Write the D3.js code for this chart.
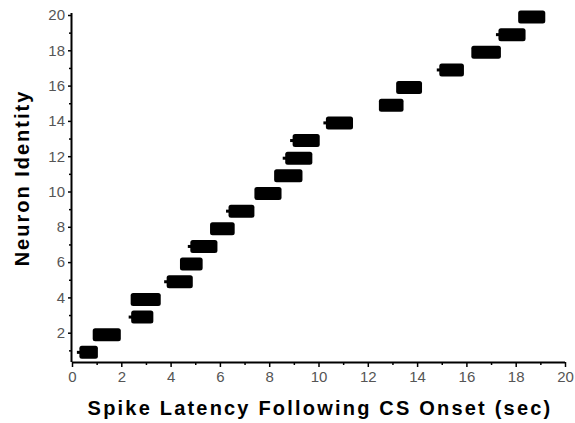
<!DOCTYPE html>
<html><head><meta charset="utf-8">
<script src="https://cdn.jsdelivr.net/npm/d3@7"></script>
<style>html,body{margin:0;padding:0;background:#fff;}svg{display:block;}</style>
</head><body>
<svg id="c" width="575" height="423"></svg>
<script>
// Neuron identities
const neurons = [1,2,3,4,5,6,7,8,9,10,11,12,13,14,15,16,17,18,19,20];
// First and last spike latency (sec) of each neuron's spike cluster
const spikeStart = [0.3,0.84,2.4,2.38,3.84,4.38,4.8,5.6,6.35,7.4,8.2,8.65,8.95,10.3,12.45,13.15,14.9,16.2,17.3,18.1];
const spikeEnd   = [1.05,1.98,3.3,3.6,4.9,5.3,5.9,6.6,7.4,8.5,9.35,9.75,10.05,11.4,13.45,14.2,15.9,17.4,18.4,19.2];
// Neurons with an isolated early spike (small nub on left)
const earlySpike = [1,3,5,7,9,12,13,14,17,19];
const xTicks = [0,2,4,6,8,10,12,14,16,18,20];
const yTicks = [2,4,6,8,10,12,14,16,18,20];
const xTitle = "Spike Latency Following CS Onset (sec)";
const yTitle = "Neuron Identity";

const svg = d3.select("#c");
const x = d3.scaleLinear().domain([0,20]).range([72,565]);
const y = d3.scaleLinear().domain([0,20]).range([368,15]);
const yAxisOrigin = 0.34;
const y0 = y(yAxisOrigin);

// bars
const g = svg.append("g");
neurons.forEach((n,i)=>{
  const cy = y(n)+2;
  g.append("rect")
    .attr("x", x(spikeStart[i])).attr("y", cy-6.5)
    .attr("width", x(spikeEnd[i])-x(spikeStart[i])).attr("height", 13)
    .attr("rx", 2.5).attr("fill","#000");
  if (earlySpike.includes(n)) {
    g.append("rect").attr("x", x(spikeStart[i])-2.5).attr("y", cy-1.5)
      .attr("width", 4).attr("height", 3).attr("fill","#000");
  }
});

// axes
const xAxis = d3.axisBottom(x).tickValues(d3.range(0,21,1)).tickSize(4)
  .tickFormat(d => xTicks.includes(d) ? d : "");
const gx = svg.append("g").attr("transform",`translate(0,${y0})`).call(xAxis);
gx.select(".domain").attr("d", `M${x(0)},0.5H${x(20)}`).attr("stroke","#000").attr("stroke-width",2);
gx.selectAll(".tick line").attr("stroke","#000").attr("stroke-width",1.5)
  .attr("y2", d => xTicks.includes(d) ? 5 : 3);
gx.selectAll(".tick text").attr("font-family","Liberation Sans, Arial, sans-serif")
  .attr("font-size",15).attr("fill","#555").attr("dy","0.9em").attr("y",7);

const yAxis = d3.axisLeft(y).tickValues(d3.range(1,21,1)).tickSize(4)
  .tickFormat(d => yTicks.includes(d) ? d : "");
const gy = svg.append("g").attr("transform",`translate(${x(0)},0)`).call(yAxis);
gy.select(".domain").attr("d", `M-0.5,${y(20)-2}V${y0}`).attr("stroke","#000").attr("stroke-width",2);
gy.selectAll(".tick line").attr("stroke","#000").attr("stroke-width",1.5)
  .attr("x2", d => yTicks.includes(d) ? -4 : -3);
gy.selectAll(".tick text").attr("font-family","Liberation Sans, Arial, sans-serif")
  .attr("font-size",15).attr("fill","#555").attr("x",-7);

// titles
svg.append("text").attr("x", 320).attr("y", 415).attr("text-anchor","middle")
  .attr("font-family","Liberation Sans, Arial, sans-serif").attr("font-weight","bold")
  .attr("font-size",20).attr("letter-spacing","2.2px").text(xTitle);
svg.append("text").attr("transform","translate(29,178) rotate(-90)").attr("text-anchor","middle")
  .attr("font-family","Liberation Sans, Arial, sans-serif").attr("font-weight","bold")
  .attr("font-size",20).attr("letter-spacing","2px").text(yTitle);
</script>
</body></html>
